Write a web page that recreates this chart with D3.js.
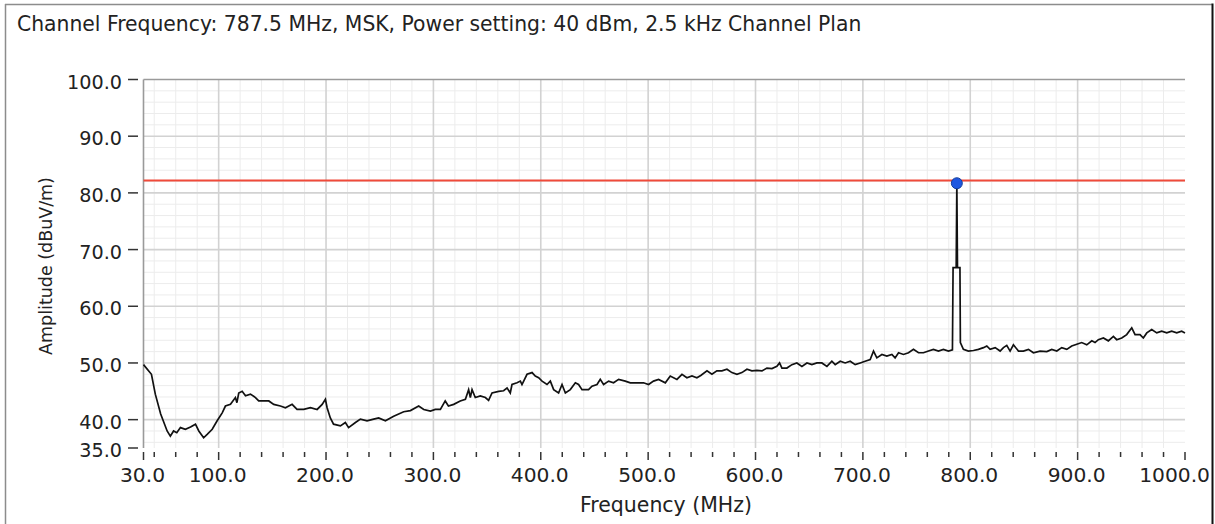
<!DOCTYPE html>
<html><head><meta charset="utf-8">
<script src="https://cdn.jsdelivr.net/npm/d3@7"></script>
<style>html,body{margin:0;padding:0;background:#fff;overflow:hidden;} svg{display:block;}</style>
</head><body>
<svg id="chart" width="1215" height="524"></svg>
<script>
// ---------- data ----------
const titleText = "Channel Frequency: 787.5 MHz, MSK, Power setting: 40 dBm, 2.5 kHz Channel Plan";
const xTitle = "Frequency (MHz)";
const yTitle = "Amplitude (dBuV/m)";

const freqMHz = [
  30, 37.4, 41, 46, 52, 55, 58, 61, 64.4, 69, 73.8, 78.4, 81.5, 86, 89.3, 94, 98.6,
  103.3, 106.3, 111, 115.6, 117, 118.7, 121.9, 125, 129.6, 134.3, 137.3, 146.7, 151.3,
  157.5, 162.2, 168.4, 173, 179.2, 185.5, 191.7, 196.4, 199.4, 201, 204, 207, 213.4,
  218, 221, 227.4, 232, 238.2, 244.4, 249, 255.3, 263, 272.3, 278.6, 286.3, 291, 297.2,
  301.8, 306.5, 311, 314, 318.9, 325, 329.8, 332.8, 334.4, 336, 339, 343.7, 348.4, 351.4,
  354.6, 360.8, 365.4, 368.6, 371.6, 373.2, 377.9, 381, 382.5, 387.2, 391.9, 394.9, 398,
  401.2, 405.8, 408.9, 412, 416.6, 419.8, 422.9, 427.5, 432.2, 435.2, 438.4, 444.5, 447.7,
  452.4, 455.4, 458.5, 463.2, 467.8, 472.5, 478.7, 483.4, 489.6, 495.7, 500.4, 505, 509.7,
  516, 520.6, 526.8, 531.5, 536.1, 540.8, 545.4, 549, 554.8, 559.4, 564, 568.7, 573.4, 578,
  582.7, 587.3, 592, 596.6, 601.3, 606, 610.6, 615.3, 619.9, 622.4, 624.6, 629.2, 633.9,
  638.5, 643.2, 647.9, 652.5, 657.2, 661.8, 666.5, 671.1, 674.2, 678.9, 683.5, 688.2, 692.8,
  697.5, 702.1, 706.8, 709.9, 713, 717.7, 722.3, 727, 730, 733.2, 737.8, 742.5, 747.1, 751.8,
  756.4, 761.1, 765.7, 770.4, 775, 779.7, 783.4,
  784.0, 786.9, 787.5, 788.1, 790.4, 790.8,
  793.6, 798.3, 803, 807.6, 812.3, 815.4, 818.5, 823.2, 827.8, 830.9, 834, 837.1, 840.2,
  844.9, 849.5, 854.2, 858.8, 865, 871.3, 875.9, 880.6, 885.2, 889.9, 894.5, 899.2, 903.8,
  908.5, 913.2, 916.2, 919.3, 924, 928.6, 933.3, 936.4, 941.1, 945.7, 950.4, 953.5, 958.1,
  961.2, 964.4, 969, 973.7, 978.3, 983, 987.6, 992.3, 996.9, 1000
];
const amplitudeDbuv = [
  49.7, 48.0, 44.5, 41.0, 38.0, 37.1, 38.0, 37.7, 38.6, 38.3, 38.7, 39.2, 38.0, 36.8, 37.4, 38.3, 39.8,
  41.2, 42.4, 42.7, 43.9, 43.0, 44.7, 45.0, 44.2, 44.5, 43.9, 43.3, 43.3, 42.7,
  42.4, 42.1, 42.7, 41.8, 41.8, 42.1, 41.8, 42.7, 43.6, 42.1, 40.3, 39.2, 38.9,
  39.5, 38.6, 39.5, 40.1, 39.8, 40.1, 40.3, 39.8, 40.6, 41.4, 41.6, 42.4, 41.8, 41.5,
  41.8, 41.8, 43.3, 42.4, 42.7, 43.3, 43.6, 45.3, 43.9, 45.3, 43.9, 44.2, 43.9, 43.4,
  44.7, 45.0, 45.1, 45.6, 44.7, 46.2, 46.5, 46.8, 46.2, 48.0, 48.3, 47.7, 47.4,
  46.8, 46.2, 46.8, 45.3, 44.7, 46.2, 44.7, 45.3, 46.5, 46.2, 45.3, 45.3, 45.9,
  46.2, 47.1, 46.2, 46.8, 46.5, 47.1, 46.8, 46.5, 46.5, 46.5, 46.2, 46.8, 47.1,
  46.5, 47.7, 47.1, 48.0, 47.4, 47.7, 47.4, 47.8, 48.6, 48.0, 48.6, 48.6, 48.9, 48.3,
  48.0, 48.3, 48.9, 48.6, 48.7, 48.6, 49.1, 49.0, 49.4, 50.0, 49.1, 49.1, 49.7,
  50.0, 49.4, 50.0, 49.7, 50.0, 50.0, 49.4, 50.3, 49.7, 50.3, 50.0, 50.3, 49.7,
  50.0, 50.3, 50.6, 52.1, 50.9, 51.5, 51.2, 51.5, 50.9, 51.8, 51.5, 51.8, 52.4, 51.8,
  51.8, 52.1, 52.4, 52.1, 52.4, 52.1, 52.3,
  66.8, 66.8, 81.7, 66.8, 66.8, 53.6,
  52.4, 52.1, 52.2, 52.4, 52.7, 53.0, 52.4, 52.7, 52.1, 52.7, 53.1, 52.1, 53.2,
  52.1, 52.1, 52.4, 51.8, 52.1, 52.0, 52.4, 52.1, 52.7, 52.4, 53.0, 53.3, 53.6,
  53.2, 53.9, 53.6, 54.1, 54.4, 53.9, 54.7, 54.1, 54.4, 55.0, 56.2, 55.0, 55.0,
  54.4, 55.3, 55.9, 55.3, 55.6, 55.3, 55.6, 55.3, 55.6, 55.3
];
const limitDbuv = [82.2];
const peakFreq = [787.5];
const peakAmp = [81.7];

const xMajorTicks = [30, 100, 200, 300, 400, 500, 600, 700, 800, 900, 1000];
const xMinorTicks = [40, 60, 80, 120, 140, 160, 180, 220, 240, 260, 280, 320, 340, 360, 380,
  420, 440, 460, 480, 520, 540, 560, 580, 620, 640, 660, 680, 720, 740, 760, 780,
  820, 840, 860, 880, 920, 940, 960, 980];
const yMajorTicks = [35, 40, 50, 60, 70, 80, 90, 100];
const xGridMajor = [100, 200, 300, 400, 500, 600, 700, 800, 900];
const yGridMajor = [40, 50, 60, 70, 80, 90];
const yGridMinor = [36, 38, 42, 44, 46, 48, 52, 54, 56, 58, 62, 64, 66, 68, 72, 74, 76, 78,
  82, 84, 86, 88, 92, 94, 96, 98];

// ---------- chart ----------
const W = 1215, H = 524;
const FONT = "DejaVu Sans, Tahoma, Verdana, sans-serif";
const svg = d3.select("#chart");
const x = d3.scaleLinear().domain([30, 1000]).range([143.5, 1185]);
const y = d3.scaleLinear().domain([35, 100]).range([448, 79.5]);
const fmt = d3.format(".1f");

function fit(sel, target) {
  const w = sel.node().getComputedTextLength();
  const fs = parseFloat(sel.attr("font-size"));
  const nfs = fs * target / w;
  sel.attr("font-size", nfs);
  return nfs;
}

// minor grid
const g = svg.append("g");
g.selectAll(".vmin").data(xMinorTicks).join("line")
  .attr("x1", d => x(d)).attr("x2", d => x(d)).attr("y1", y(100)).attr("y2", y(35))
  .attr("stroke", "#ececec").attr("stroke-width", 1);
g.selectAll(".hmin").data(yGridMinor).join("line")
  .attr("x1", x(30)).attr("x2", x(1000)).attr("y1", d => y(d)).attr("y2", d => y(d))
  .attr("stroke", "#ececec").attr("stroke-width", 1);
// major grid
g.selectAll(".vmaj").data(xGridMajor).join("line")
  .attr("x1", d => x(d)).attr("x2", d => x(d)).attr("y1", y(100)).attr("y2", y(35))
  .attr("stroke", "#d2d2d2").attr("stroke-width", 1.6);
g.selectAll(".hmaj").data(yGridMajor).join("line")
  .attr("x1", x(30)).attr("x2", x(1000)).attr("y1", d => y(d)).attr("y2", d => y(d))
  .attr("stroke", "#d2d2d2").attr("stroke-width", 1.6);

// plot frame (left + top)
svg.append("line").attr("x1", x(30)).attr("x2", x(30)).attr("y1", y(100)).attr("y2", y(35))
  .attr("stroke", "#9a9a9a").attr("stroke-width", 1.6);
svg.append("line").attr("x1", x(30)).attr("x2", x(1000)).attr("y1", y(100)).attr("y2", y(100))
  .attr("stroke", "#9a9a9a").attr("stroke-width", 1.6);

// limit line
svg.selectAll(".limit").data(limitDbuv).join("line")
  .attr("x1", x(30)).attr("x2", x(1000)).attr("y1", d => y(d)).attr("y2", d => y(d))
  .attr("stroke", "#f04a3a").attr("stroke-width", 2);

// trace
const pts = freqMHz.map((f, i) => [f, amplitudeDbuv[i]]);
svg.append("path").datum(pts)
  .attr("d", d3.line().x(d => x(d[0])).y(d => y(d[1])))
  .attr("fill", "none").attr("stroke", "#111").attr("stroke-width", 1.7)
  .attr("stroke-linejoin", "miter");

// peak marker
svg.selectAll(".peak").data(peakFreq).join("circle")
  .attr("cx", d => x(d)).attr("cy", (d, i) => y(peakAmp[i])).attr("r", 5.5)
  .attr("fill", "#1f57e0").attr("stroke", "#173f9e").attr("stroke-width", 1);

// y ticks
svg.selectAll(".yt").data(yMajorTicks).join("line")
  .attr("x1", 128).attr("x2", 138).attr("y1", d => y(d)).attr("y2", d => y(d))
  .attr("stroke", "#333").attr("stroke-width", 1.5);
const yl = svg.selectAll(".yl").data(yMajorTicks).join("text")
  .attr("x", 122).attr("y", d => y(d) + 9).attr("text-anchor", "end")
  .attr("font-family", FONT).attr("font-size", 19).attr("fill", "#222")
  .text(d => fmt(d));
const yfs = fit(d3.select(yl.nodes()[yl.nodes().length - 1]), 55);
yl.attr("font-size", yfs);

// x ticks
svg.selectAll(".xt").data(xMajorTicks).join("line")
  .attr("x1", d => x(d)).attr("x2", d => x(d)).attr("y1", 452).attr("y2", 460)
  .attr("stroke", "#333").attr("stroke-width", 1.5);
svg.selectAll(".xmt").data(xMinorTicks).join("line")
  .attr("x1", d => x(d)).attr("x2", d => x(d)).attr("y1", 452).attr("y2", 457)
  .attr("stroke", "#333").attr("stroke-width", 1.5);
const lastTick = xMajorTicks[xMajorTicks.length - 1];
const xl = svg.selectAll(".xl").data(xMajorTicks).join("text")
  .attr("x", d => d === lastTick ? 1210 : x(d) - 1).attr("y", 482)
  .attr("text-anchor", d => d === lastTick ? "end" : "middle")
  .attr("font-family", FONT).attr("font-size", 19).attr("fill", "#222")
  .text(d => fmt(d));
const xfs = fit(d3.select(xl.nodes()[5]), 58);
xl.attr("font-size", xfs);

// titles
const t = svg.append("text").attr("x", 17).attr("y", 31)
  .attr("font-family", FONT).attr("font-size", 17).attr("fill", "#222").text(titleText);
fit(t, 845);
const xt = svg.append("text").attr("x", 666).attr("y", 512).attr("text-anchor", "middle")
  .attr("font-family", FONT).attr("font-size", 19).attr("fill", "#222").text(xTitle);
fit(xt, 172);
const yt = svg.append("text").attr("transform", "translate(51.5,266) rotate(-90)")
  .attr("text-anchor", "middle")
  .attr("font-family", FONT).attr("font-size", 17).attr("fill", "#222").text(yTitle);
fit(yt, 178);

// outer frame
svg.append("line").attr("x1", 5.5).attr("x2", 5.5).attr("y1", 4).attr("y2", H)
  .attr("stroke", "#8c8c8c").attr("stroke-width", 1.5);
svg.append("line").attr("x1", 5).attr("x2", 1212).attr("y1", 4.5).attr("y2", 4.5)
  .attr("stroke", "#8c8c8c").attr("stroke-width", 1.5);
svg.append("line").attr("x1", 1212.5).attr("x2", 1212.5).attr("y1", 3.5).attr("y2", H)
  .attr("stroke", "#111").attr("stroke-width", 2);
</script>
</body></html>
